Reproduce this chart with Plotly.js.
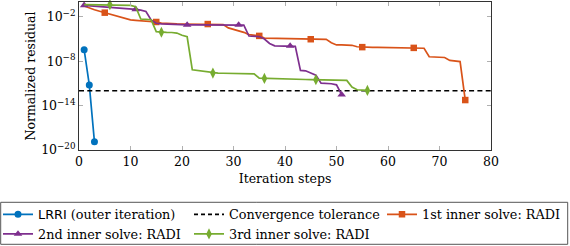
<!DOCTYPE html>
<html><head><meta charset="utf-8">
<script src="https://cdn.plot.ly/plotly-3.0.1.min.js"></script>
<style>html,body{margin:0;padding:0;background:#fff;} #chart{width:570px;height:246px;}</style>
</head><body><div id="chart"></div>
<script>
// ---- data (residuals, stored as log10 values) ----
const lrriIter = [1, 2, 3];
const lrriLog10 = [-6.45, -11.2, -18.9];

const tolIter = [0, 80];
const tolLog10 = [-12, -12];

const firstIter = [1,2,3,4,5,6,7,8,9,10,11,12,13,14,15,16,17,18,19,20,21,22,23,24,25,26,27,28,29,30,31,32,33,34,35,36,37,38,39,40,41,42,43,44,45,46,47,48,49,50,51,52,53,54,55,56,57,58,59,60,61,62,63,64,65,66,67,68,69,70,71,72,73,74,75];
const firstLog10 = [-0.54,-0.85,-1.05,-1.25,-1.44,-1.65,-1.89,-2.1,-2.25,-2.42,
  -2.47,-2.52,-2.56,-2.62,-2.7,-2.85,-2.92,-2.95,-2.96,-2.97,
  -2.97,-2.98,-2.98,-2.98,-2.98,-2.99,-3.0,-3.05,-3.5,-3.68,
  -3.9,-4.1,-4.4,-4.5,-4.58,-4.88,-4.9,-4.9,-4.92,-4.93,
  -4.95,-4.97,-4.98,-5.0,-5.03,-5.03,-5.03,-5.05,-5.5,-5.8,
  -5.8,-5.82,-5.85,-6.05,-6.1,-6.12,-6.13,-6.14,-6.15,-6.16,
  -6.17,-6.18,-6.19,-6.2,-6.2,-6.2,-6.25,-7.4,-7.46,-7.47,
  -7.5,-7.9,-8.0,-8.05,-13.25];

const secondIter = [1,2,3,4,5,6,7,8,9,10,11,12,13,14,15,16,17,18,19,20,21,22,23,24,25,26,27,28,29,30,31,32,33,34,35,36,37,38,39,40,41,42,43,44,45,46,47,48,49,50,51];
const secondLog10 = [-0.45,-0.5,-0.53,-0.56,-0.6,-0.65,-0.7,-0.75,-0.82,-0.9,
  -0.99,-1.1,-1.28,-2.43,-2.87,-2.95,-3.0,-3.02,-3.05,-3.07,
  -3.1,-3.1,-3.1,-3.1,-3.1,-3.1,-3.1,-3.1,-3.1,-3.1,
  -3.1,-3.12,-4.6,-4.67,-4.67,-5.0,-5.6,-5.93,-5.93,-5.93,
  -5.93,-6.0,-9.25,-9.3,-9.6,-9.9,-10.96,-11.0,-11.05,-11.19,-12.53];

const thirdIter = [1,2,3,4,5,6,7,8,9,10,11,12,13,14,15,16,17,18,19,20,21,22,23,24,25,26,27,28,29,30,31,32,33,34,35,36,37,38,39,40,41,42,43,44,45,46,47,48,49,50,51,52,53,54,55,56];
const thirdLog10 = [-0.36,-0.36,-0.36,-0.36,-0.36,-0.36,-0.37,-0.38,-0.4,-0.45,
  -0.63,-2.3,-2.35,-2.4,-4.0,-4.09,-4.1,-4.12,-4.2,-4.5,
  -4.7,-9.16,-9.25,-9.35,-9.45,-9.6,-9.62,-9.63,-9.64,-9.65,
  -9.66,-9.67,-9.68,-9.7,-10.3,-10.33,-10.35,-10.37,-10.39,-10.41,
  -10.43,-10.45,-10.46,-10.47,-10.48,-10.5,-10.55,-10.58,-10.6,-10.6,
  -10.6,-10.6,-11.5,-11.86,-11.9,-11.95];

const names = ['<span style="font-family:DejaVu Sans">LRRI</span> (outer iteration)',
  'Convergence tolerance', '1st inner solve: RADI', '2nd inner solve: RADI', '3rd inner solve: RADI'];
const yTickVals = [1e-20, 1e-14, 1e-8, 1e-2];
const yTickText = ['10<sup>−20</sup>', '10<sup>−14</sup>', '10<sup>−8</sup>', '10<sup>−2</sup>'];
const xTickVals = [0, 10, 20, 30, 40, 50, 60, 70, 80];

// ---- drawing ----
const toVal = a => a.map(v => Math.pow(10, v));
const FONT = 'DejaVu Serif, Liberation Serif, serif';
const FS = 12.5;
const LFS = 12.8;
const C = {blue:'#0072BD', orange:'#D95319', purple:'#7E2F8E', green:'#77AC30'};
const LW = 1.7;

function series(xs, logs, color, symbol, msize, phase) {
  const ys = toVal(logs);
  const mx = [], my = [];
  xs.forEach((x, i) => { if (phase === undefined || x % 10 === phase) { mx.push(x); my.push(ys[i]); } });
  return [
    {x: xs, y: ys, mode: 'lines', line: {color, width: LW}, showlegend: false, hoverinfo: 'skip'},
    {x: mx, y: my, mode: 'markers', marker: {color, symbol, size: msize}, showlegend: false, cliponaxis: false, hoverinfo: 'skip'},
  ];
}
function legendEntry(name, color, symbol, msize, legendId, dash) {
  const t = {x: [null], y: [null], name, legend: legendId, showlegend: true,
    mode: symbol ? 'lines+markers' : 'lines', line: {color, width: LW, dash: dash || 'solid'}};
  if (symbol) t.marker = {color, symbol, size: msize};
  return t;
}

const traces = [
  ...series(lrriIter, lrriLog10, C.blue, 'circle', 7),
  {x: tolIter, y: toVal(tolLog10), mode: 'lines', line: {color: '#000', width: 1.5, dash: '5px,3.3px'}, showlegend: false, hoverinfo: 'skip'},
  ...series(firstIter, firstLog10, C.orange, 'square', 6.5, 5),
  ...series(secondIter, secondLog10, C.purple, 'triangle-up', 7.5, 1),
  ...series(thirdIter, thirdLog10, C.green, 'diamond-tall', 8, 6),
  legendEntry(names[0], C.blue, 'circle', 7, 'legend'),
  legendEntry(names[3], C.purple, 'triangle-up', 7.5, 'legend'),
  legendEntry(names[1], '#000', null, 0, 'legend2', '4px,3px'),
  legendEntry(names[4], C.green, 'diamond-tall', 8, 'legend2'),
  legendEntry(names[2], C.orange, 'square', 6.5, 'legend3'),
];

const L = 79, R = 491, T = 2, B = 150, W = 570, H = 246;
const px2x = p => (p - L) / (R - L);
const py2y = p => (B - p) / (B - T);
const legBase = {orientation: 'v', xanchor: 'left', yanchor: 'top', bgcolor: 'rgba(0,0,0,0)',
  borderwidth: 0, font: {family: FONT, size: LFS, color: '#000'}, itemwidth: 30, tracegroupgap: 0};

const layout = {
  width: W, height: H,
  margin: {l: L, r: W - R, t: T, b: H - B, autoexpand: false},
  paper_bgcolor: '#fff', plot_bgcolor: '#fff',
  font: {family: FONT, size: FS, color: '#000'},
  xaxis: {range: [0, 80], tickvals: xTickVals, ticks: 'inside', ticklen: 4, tickcolor: '#b0b0b0',
    showline: true, linecolor: '#333', linewidth: 1, mirror: 'ticks', showgrid: false, zeroline: false,
    tickfont: {family: FONT, size: FS}, title: {text: 'Iteration steps', font: {family: FONT, size: FS}, standoff: 6}},
  yaxis: {type: 'log', range: [-20, 0], tickvals: yTickVals, ticktext: yTickText, ticks: 'inside', ticklen: 4,
    tickcolor: '#b0b0b0', showline: true, linecolor: '#333', linewidth: 1, mirror: 'ticks', showgrid: false,
    zeroline: false, tickfont: {family: FONT, size: FS},
    title: {text: 'Normalized residual', font: {family: FONT, size: FS}, standoff: 2}},
  showlegend: true,
  legend: Object.assign({}, legBase, {x: px2x(-2), y: py2y(199.5)}),
  legend2: Object.assign({}, legBase, {x: px2x(189), y: py2y(199.5)}),
  legend3: Object.assign({}, legBase, {x: px2x(382), y: py2y(199.5)}),
  shapes: [{type: 'rect', xref: 'paper', yref: 'paper', x0: px2x(0.7), x1: px2x(567.7), y0: py2y(202.3), y1: py2y(244.3),
    line: {color: '#555', width: 1}, fillcolor: 'rgba(0,0,0,0)', layer: 'below'}],
};

Plotly.newPlot('chart', traces, layout, {staticPlot: true, displayModeBar: false});
</script></body></html>
